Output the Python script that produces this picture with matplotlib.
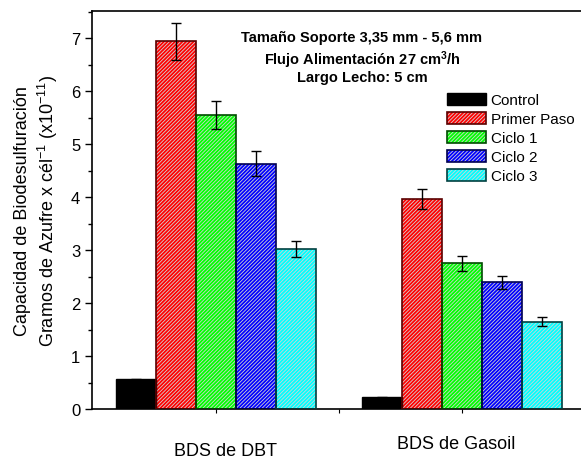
import matplotlib
matplotlib.use('Agg')
import matplotlib.pyplot as plt
import numpy as np
from matplotlib.patches import Patch
from matplotlib.ticker import MultipleLocator
from matplotlib.transforms import blended_transform_factory

plt.rcParams['font.family'] = ['Liberation Sans', 'DejaVu Sans']
plt.rcParams['mathtext.fontset'] = 'custom'
plt.rcParams['mathtext.rm'] = 'Liberation Sans'
plt.rcParams['mathtext.it'] = 'Liberation Sans:italic'
plt.rcParams['mathtext.bf'] = 'Liberation Sans:bold'
plt.rcParams['hatch.linewidth'] = 0.6

# ─── Datos ────────────────────────────────────────────────────────────────────
grupos = ["BDS de DBT", "BDS de Gasoil"]
series = ["Control", "Primer Paso", "Ciclo 1", "Ciclo 2", "Ciclo 3"]
valores = {
    "Control":     [0.56, 0.22],
    "Primer Paso": [6.94, 3.96],
    "Ciclo 1":     [5.55, 2.75],
    "Ciclo 2":     [4.63, 2.39],
    "Ciclo 3":     [3.02, 1.65],
}
errores = {
    "Control":     [0.01, 0.01],
    "Primer Paso": [0.35, 0.19],
    "Ciclo 1":     [0.27, 0.14],
    "Ciclo 2":     [0.23, 0.12],
    "Ciclo 3":     [0.15, 0.09],
}

COLORES = {
    "Control":     ("black",   "black",   None),
    "Primer Paso": ("#ff0000", "#5a0000", "/" * 9),
    "Ciclo 1":     ("#00ff00", "#004a00", "/" * 9),
    "Ciclo 2":     ("#0000ff", "#000050", "/" * 9),
    "Ciclo 3":     ("#00ffff", "#004040", "/" * 9),
}
HATCH_COLOR = "#d4d4d4"

# ─── Figura ───────────────────────────────────────────────────────────────────
fig = plt.figure(figsize=(5.81, 4.64), dpi=100)
ax = fig.add_axes([92 / 581, 54 / 464, 489 / 581, 398 / 464])

ancho = 40 / 246
x = np.arange(len(grupos))
handles = []
for i, s in enumerate(series):
    fc, ec, hatch = COLORES[s]
    pos = x + (i - 2) * ancho
    if hatch:
        ax.bar(pos, valores[s], width=ancho, color=fc, edgecolor=HATCH_COLOR,
               hatch=hatch, linewidth=0, zorder=2)
        ax.bar(pos, valores[s], width=ancho, fill=False, edgecolor=ec,
               linewidth=1.2, zorder=3)
        h = (Patch(facecolor=fc, edgecolor=HATCH_COLOR, hatch=hatch, linewidth=0),
             Patch(fill=False, edgecolor=ec, linewidth=1.2))
    else:
        ax.bar(pos, valores[s], width=ancho, color=fc, edgecolor=ec,
               linewidth=1.0, zorder=3)
        h = Patch(facecolor=fc, edgecolor=ec, linewidth=1.0)
    ax.errorbar(pos, valores[s], yerr=errores[s], fmt='none', ecolor='black',
                elinewidth=1.0, capsize=3.5, capthick=1.0, zorder=4)
    handles.append(h)

ax.set_xlim(-0.504, 1.484)
ax.set_ylim(0, 7.51)
ax.yaxis.set_major_locator(MultipleLocator(1))
ax.yaxis.set_minor_locator(MultipleLocator(0.5))
ax.set_xticks([0, 1])
ax.set_xticks([0.5], minor=True)
ax.set_xticklabels([])
ax.tick_params(axis='y', which='major', labelsize=12, length=5, width=1)
ax.tick_params(axis='y', which='minor', length=3, width=1)
ax.tick_params(axis='x', which='both', length=3, width=0.8)
ax.spines['right'].set_visible(False)
for sp in ['left', 'top', 'bottom']:
    ax.spines[sp].set_linewidth(1.2)

ax.set_ylabel("Capacidad de Biodesulfuración\n"
              r"Gramos de Azufre x cél$^{-1}$ (x10$^{-11}$)",
              fontsize=13, labelpad=8, linespacing=1.25)

# etiquetas de grupos
trans = blended_transform_factory(ax.transData, fig.transFigure)
ax.text(0.04, 12 / 464, grupos[0], transform=trans,
        ha='center', va='center', fontsize=13)
ax.text(0.976, 19 / 464, grupos[1], transform=trans,
        ha='center', va='center', fontsize=13)

# anotaciones
ax.text(0.552, 0.935, "Tamaño Soporte 3,35 mm - 5,6 mm", transform=ax.transAxes,
        ha='center', va='center', fontsize=10.5, fontweight='bold')
ax.text(0.552, 0.879, "Flujo Alimentación 27 cm$^\\mathbf{3}$/h", transform=ax.transAxes,
        ha='center', va='center', fontsize=10.5, fontweight='bold')
ax.text(0.552, 0.834, "Largo Lecho: 5 cm", transform=ax.transAxes,
        ha='center', va='center', fontsize=10.5, fontweight='bold')

fig.legend(handles, series, loc='upper left',
           bbox_to_anchor=(447 / 581, (464 - 94) / 464), frameon=False,
           fontsize=11, handlelength=2.55, handleheight=0.85,
           handletextpad=0.3, labelspacing=0.3, borderpad=0, borderaxespad=0)

fig.savefig("out.png", dpi=100)
